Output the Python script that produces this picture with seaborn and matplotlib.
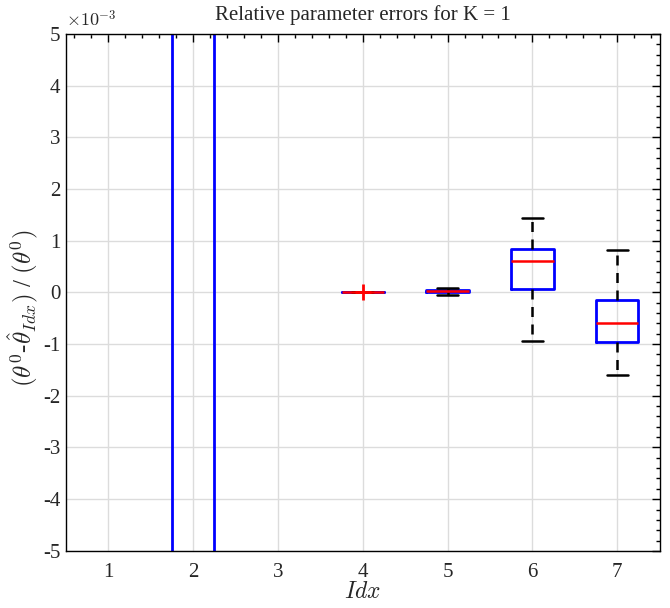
import numpy as np
import pandas as pd
import matplotlib
matplotlib.use("Agg")
import matplotlib.pyplot as plt
import seaborn as sns
from matplotlib.ticker import MultipleLocator, FuncFormatter

# Relative errors per parameter index (raw samples, units 1)
idx2_vals = [-0.02, -0.01, 0.03, 0.01, 0.02]
idx4_vals = [-1e-6, -0.5e-6, 0.0, 0.5e-6, 1e-6, 5e-6]
idx5_vals = [-0.05e-3, 0.0, 0.02e-3, 0.05e-3, 0.09e-3]
idx6_vals = [-0.93e-3, 0.06e-3, 0.60e-3, 0.85e-3, 1.45e-3]
idx7_vals = [-1.60e-3, -0.95e-3, -0.60e-3, -0.14e-3, 0.83e-3]
idx_labels = [1, 2, 3, 4, 5, 6, 7]

groups = {2: idx2_vals, 4: idx4_vals, 5: idx5_vals, 6: idx6_vals, 7: idx7_vals}
df = pd.DataFrame(
    [(k, v) for k, vals in groups.items() for v in vals], columns=["Idx", "err"]
)

sns.set_theme(style="white")
plt.rcParams["font.family"] = ["Liberation Serif", "DejaVu Serif"]
plt.rcParams["mathtext.fontset"] = "cm"

fig = plt.figure(figsize=(6.7, 6.08), dpi=100)
ax = fig.add_axes([0.0985, 0.094, 0.886, 0.850])

sns.boxplot(
    data=df, x="Idx", y="err", native_scale=True, width=0.5, fill=False,
    linecolor="black", linewidth=1.8, ax=ax,
    boxprops=dict(color="blue", linewidth=2),
    medianprops=dict(color="red", linewidth=1.8),
    whiskerprops=dict(color="black", linestyle=(0, (4, 3)), linewidth=1.8),
    capprops=dict(color="black", linewidth=1.8),
    flierprops=dict(marker="+", markeredgecolor="red", markersize=12, markeredgewidth=2),
)

ax.set_xlim(0.5, 7.5)
ax.set_ylim(-5e-3, 5e-3)
ax.set_xticks(idx_labels)
ax.set_xticklabels([str(i) for i in idx_labels])
ax.yaxis.set_major_locator(MultipleLocator(1e-3))
ax.yaxis.set_minor_locator(MultipleLocator(0.2e-3))
ax.xaxis.set_minor_locator(MultipleLocator(0.2))
ax.yaxis.set_major_formatter(FuncFormatter(lambda v, p: f"{v * 1e3:.0f}".replace("−", "-")))
ax.tick_params(which="both", direction="in", top=True, right=True, labelsize=15, color="black")
ax.tick_params(which="major", length=6, width=1)
ax.tick_params(which="minor", length=3, width=1)
ax.tick_params(axis="x", which="major", pad=9)
ax.tick_params(axis="y", which="major", pad=4)
ax.grid(True, which="major", color="#dcdcdc", linewidth=1)
ax.set_axisbelow(True)
for s in ax.spines.values():
    s.set_color("black")
    s.set_linewidth(1)

ax.set_title("Relative parameter errors for K = 1", fontsize=15, pad=10)
ax.set_xlabel(r"$Idx$", fontsize=17, labelpad=0)
ax.set_ylabel(r"$(\theta^0$-$\hat{\theta}_{Idx})$ / $(\theta^0)$", fontsize=18)
ax.yaxis.set_label_coords(-0.042, 0.47)
ax.text(0.0, 1.008, r"$\times10^{-3}$", transform=ax.transAxes, fontsize=13,
        ha="left", va="bottom")

fig.savefig("out.png", dpi=100)
